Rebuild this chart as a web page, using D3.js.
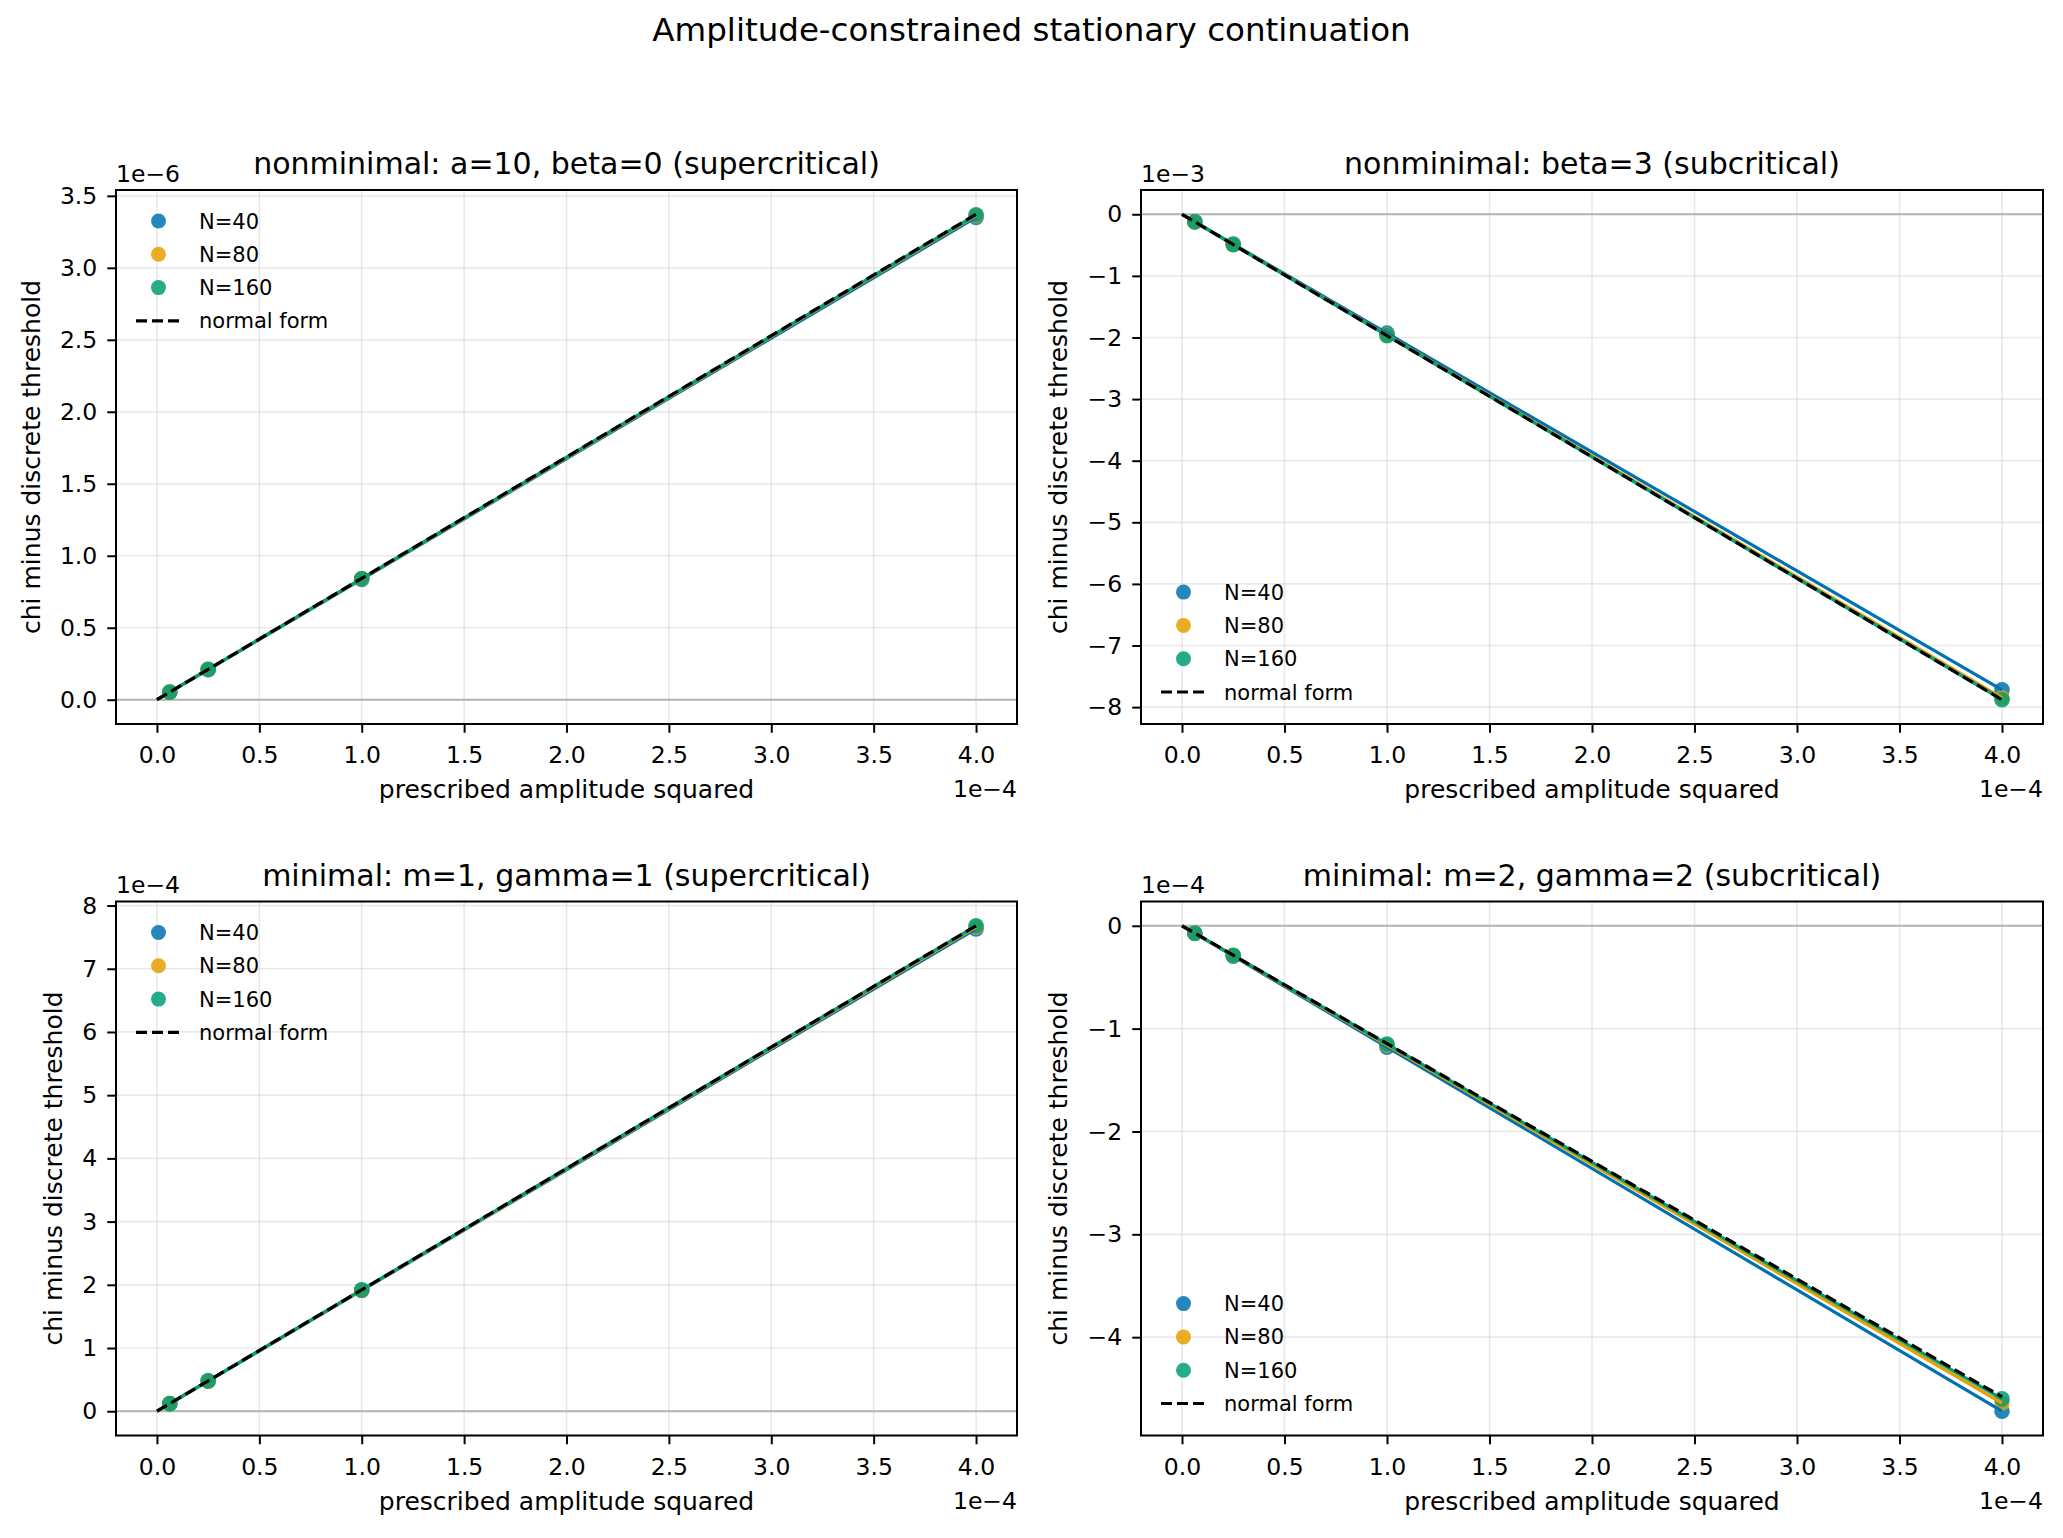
<!DOCTYPE html>

<head>
    <meta charset="utf-8">
    <script src="https://d3js.org/d3.v7.min.js"></script>
    <style>
        body {
            margin: 0;
            background: #fff;
            font-family: "DejaVu Sans", sans-serif;
        }

        .tick line {
            stroke: #000;
            stroke-width: 2;
        }

        .tick text {
            font-size: 23.5px;
            fill: #000;
            font-family: "DejaVu Sans", sans-serif;
        }

        .domain {
            display: none;
        }
    </style>
</head>

<body>
    <script>
        // x values: prescribed amplitude squared, in units of 1e-4
        var ampSq = [0.0625, 0.25, 1, 4];
        var normalAmpSq = [0, 4];
        var seriesNames = ["N=40", "N=80", "N=160"];
        var seriesColors = ["#0072B2", "#E69F00", "#009E73"];
        var xTicks = [0, 0.5, 1, 1.5, 2, 2.5, 3, 3.5, 4];

        // panel 1 (values in 1e-6)
        var p1N40 = [0.0524, 0.209, 0.836, 3.350];
        var p1N80 = [0.0526, 0.210, 0.840, 3.362];
        var p1N160 = [0.0527, 0.211, 0.842, 3.368];
        var p1Normal = [0, 3.372];
        var p1Ticks = [0, 0.5, 1, 1.5, 2, 2.5, 3, 3.5];

        // panel 2 (values in 1e-3)
        var p2N40 = [-0.121, -0.483, -1.93, -7.72];
        var p2N80 = [-0.1228, -0.491, -1.96, -7.85];
        var p2N160 = [-0.1232, -0.493, -1.97, -7.88];
        var p2Normal = [0, -7.88];
        var p2Ticks = [0, -1, -2, -3, -4, -5, -6, -7, -8];

        // panel 3 (values in 1e-4)
        var p3N40 = [0.119, 0.477, 1.91, 7.63];
        var p3N80 = [0.120, 0.479, 1.915, 7.66];
        var p3N160 = [0.120, 0.480, 1.92, 7.68];
        var p3Normal = [0, 7.68];
        var p3Ticks = [0, 1, 2, 3, 4, 5, 6, 7, 8];

        // panel 4 (values in 1e-4)
        var p4N40 = [-0.074, -0.295, -1.18, -4.72];
        var p4N80 = [-0.072, -0.289, -1.16, -4.64];
        var p4N160 = [-0.072, -0.287, -1.15, -4.60];
        var p4Normal = [0, -4.58];
        var p4Ticks = [0, -1, -2, -3, -4];

        var panels = [
            { title: "nonminimal: a=10, beta=0 (supercritical)", offset: "1e\u22126", series: [p1N40, p1N80, p1N160], normal: p1Normal, ticks: p1Ticks, fmt: ".1f", legend: "upper", left: 116, top: 190, width: 901 },
            { title: "nonminimal: beta=3 (subcritical)", offset: "1e\u22123", series: [p2N40, p2N80, p2N160], normal: p2Normal, ticks: p2Ticks, fmt: "d", legend: "lower", left: 1141, top: 190, width: 902 },
            { title: "minimal: m=1, gamma=1 (supercritical)", offset: "1e\u22124", series: [p3N40, p3N80, p3N160], normal: p3Normal, ticks: p3Ticks, fmt: "d", legend: "upper", left: 116, top: 901.5, width: 901 },
            { title: "minimal: m=2, gamma=2 (subcritical)", offset: "1e\u22124", series: [p4N40, p4N80, p4N160], normal: p4Normal, ticks: p4Ticks, fmt: "d", legend: "lower", left: 1141, top: 901.5, width: 902 }
        ];

        var W = 2063, H = 1538, panelH = 534;

        var svg = d3.select("body").append("svg")
            .attr("width", W)
            .attr("height", H);

        svg.append("rect").attr("width", W).attr("height", H).attr("fill", "#fff");

        svg.append("text")
            .attr("x", W / 2)
            .attr("y", 41)
            .attr("text-anchor", "middle")
            .style("font-size", "32.5px")
            .text("Amplitude-constrained stationary continuation");

        panels.forEach(function(p) {
            var w = p.width, h = panelH;
            var g = svg.append("g").attr("transform", "translate(" + p.left + "," + p.top + ")");

            // autoscale with 5% margins like matplotlib
            var xs = d3.extent(normalAmpSq.concat(ampSq));
            var xpad = (xs[1] - xs[0]) * 0.05;
            var x = d3.scaleLinear().domain([xs[0] - xpad, xs[1] + xpad]).range([0, w]);

            var allY = [0].concat(p.normal, p.series[0], p.series[1], p.series[2]);
            var ys = d3.extent(allY);
            var ypad = (ys[1] - ys[0]) * 0.05;
            var y = d3.scaleLinear().domain([ys[0] - ypad, ys[1] + ypad]).range([h, 0]);

            // grid
            g.append("g").selectAll("line").data(xTicks).enter().append("line")
                .attr("x1", function(d) { return x(d); })
                .attr("x2", function(d) { return x(d); })
                .attr("y1", 0).attr("y2", h)
                .attr("stroke", "#b0b0b0").attr("stroke-opacity", 0.27).attr("stroke-width", 1.7);
            g.append("g").selectAll("line").data(p.ticks).enter().append("line")
                .attr("y1", function(d) { return y(d); })
                .attr("y2", function(d) { return y(d); })
                .attr("x1", 0).attr("x2", w)
                .attr("stroke", "#b0b0b0").attr("stroke-opacity", 0.27).attr("stroke-width", 1.7);

            // zero line
            g.append("line")
                .attr("x1", 0).attr("x2", w)
                .attr("y1", y(0)).attr("y2", y(0))
                .attr("stroke", "#b3b3b3").attr("stroke-width", 2);

            // scatter markers
            p.series.forEach(function(vals, i) {
                g.append("g").selectAll("circle").data(vals).enter().append("circle")
                    .attr("cx", function(d, j) { return x(ampSq[j]); })
                    .attr("cy", function(d) { return y(d); })
                    .attr("r", 7.8)
                    .attr("fill", seriesColors[i])
                    .attr("fill-opacity", 0.85);
            });

            // lines from the threshold
            var line = d3.line()
                .x(function(d) { return x(d[0]); })
                .y(function(d) { return y(d[1]); });

            p.series.forEach(function(vals, i) {
                var pts = [[0, 0]].concat(vals.map(function(v, j) { return [ampSq[j], v]; }));
                g.append("path")
                    .attr("d", line(pts))
                    .attr("fill", "none")
                    .attr("stroke", seriesColors[i])
                    .attr("stroke-width", 3.2);
            });

            g.append("path")
                .attr("d", line(p.normal.map(function(v, j) { return [normalAmpSq[j], v]; })))
                .attr("fill", "none")
                .attr("stroke", "#000")
                .attr("stroke-width", 3.2)
                .attr("stroke-dasharray", "11.5,5");

            // axes
            g.append("g")
                .attr("transform", "translate(0," + h + ")")
                .call(d3.axisBottom(x).tickValues(xTicks).tickFormat(d3.format(".1f")).tickSize(8.75).tickPadding(14));

            var yAxis = g.append("g")
                .call(d3.axisLeft(y).tickValues(p.ticks).tickFormat(d3.format(p.fmt)).tickSize(8.75).tickPadding(10));

            var maxW = 0;
            yAxis.selectAll("text").each(function() {
                maxW = Math.max(maxW, this.getComputedTextLength());
            });

            // frame
            g.append("rect")
                .attr("width", w).attr("height", h)
                .attr("fill", "none").attr("stroke", "#000").attr("stroke-width", 2);

            // titles and labels
            g.append("text")
                .attr("x", w / 2).attr("y", -16)
                .attr("text-anchor", "middle")
                .style("font-size", "30px")
                .text(p.title);

            g.append("text")
                .attr("x", 0).attr("y", -8.5)
                .style("font-size", "23.5px")
                .text(p.offset);

            g.append("text")
                .attr("x", w).attr("y", h + 73)
                .attr("text-anchor", "end")
                .style("font-size", "23.5px")
                .text("1e\u22124");

            g.append("text")
                .attr("x", w / 2).attr("y", h + 74)
                .attr("text-anchor", "middle")
                .style("font-size", "25px")
                .text("prescribed amplitude squared");

            var lx = -21 - maxW - 10 - 8;
            g.append("text")
                .attr("transform", "translate(" + lx + "," + (h / 2) + ") rotate(-90)")
                .attr("text-anchor", "middle")
                .style("font-size", "25px")
                .text("chi minus discrete threshold");

            // legend
            var rowGap = 33.3;
            var y0 = p.legend === "upper" ? 31 : h - 32 - 3 * rowGap;
            var leg = g.append("g").attr("transform", "translate(0," + y0 + ")");
            seriesNames.forEach(function(name, i) {
                leg.append("circle")
                    .attr("cx", 42.5).attr("cy", i * rowGap)
                    .attr("r", 7.5)
                    .attr("fill", seriesColors[i])
                    .attr("fill-opacity", 0.85);
                leg.append("text")
                    .attr("x", 83).attr("y", i * rowGap)
                    .attr("dy", "0.36em")
                    .style("font-size", "21px")
                    .text(name);
            });
            leg.append("line")
                .attr("x1", 20).attr("x2", 65)
                .attr("y1", 3 * rowGap).attr("y2", 3 * rowGap)
                .attr("stroke", "#000").attr("stroke-width", 3.2)
                .attr("stroke-dasharray", "11,5");
            leg.append("text")
                .attr("x", 83).attr("y", 3 * rowGap)
                .attr("dy", "0.36em")
                .style("font-size", "21px")
                .text("normal form");
        });
    </script>
</body>
